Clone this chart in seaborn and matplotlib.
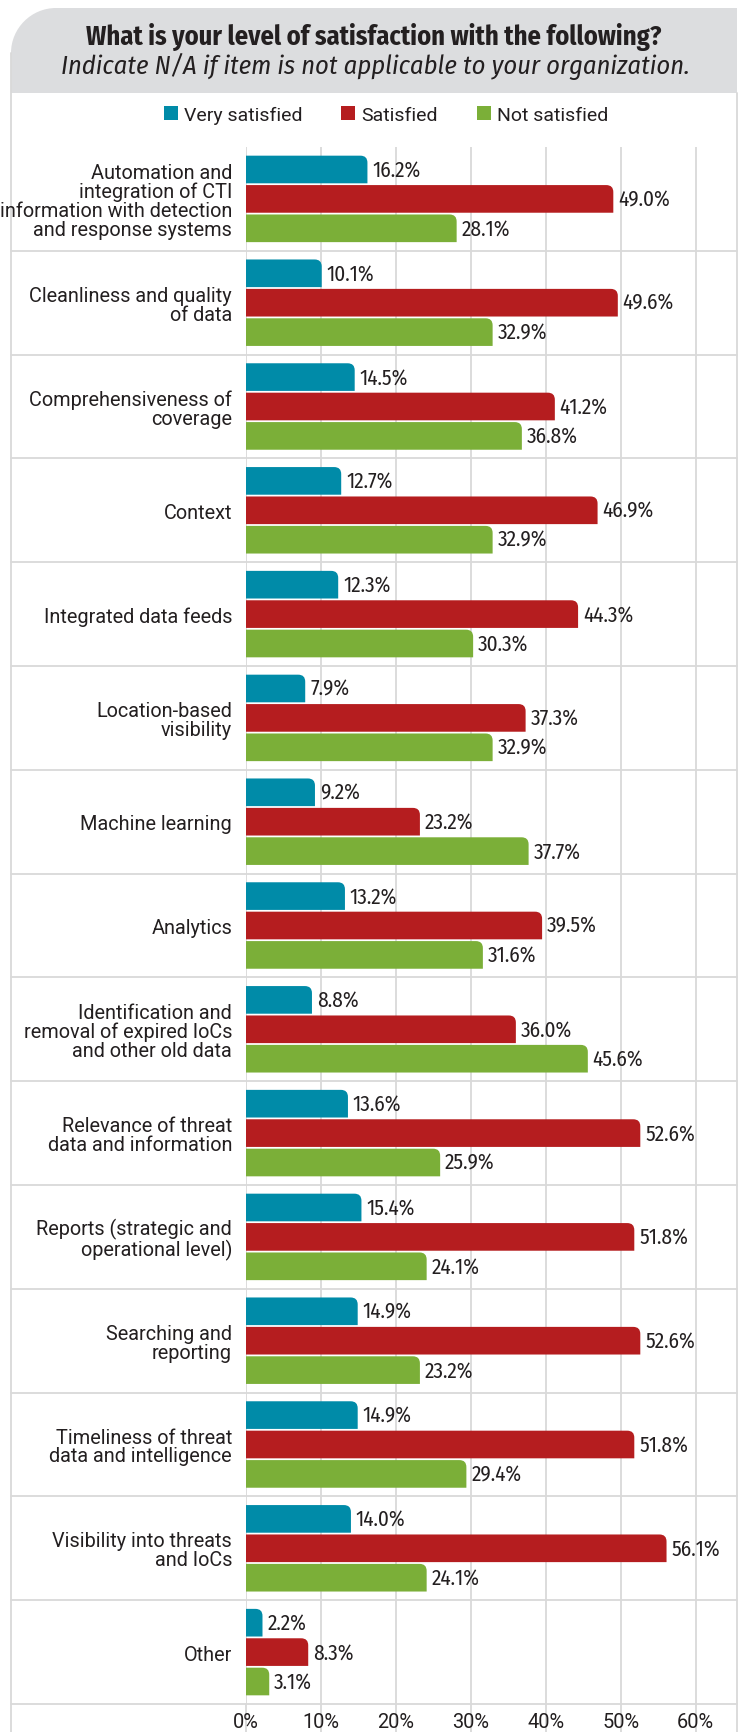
import numpy as np
import pandas as pd
import seaborn as sns
import matplotlib.pyplot as plt
from matplotlib import font_manager as fm
from matplotlib.path import Path
from matplotlib.patches import PathPatch, Patch

# ---- data -------------------------------------------------------------
categories = [
    "Automation and\nintegration of CTI\ninformation with detection\nand response systems",
    "Cleanliness and quality\nof data",
    "Comprehensiveness of\ncoverage",
    "Context",
    "Integrated data feeds",
    "Location-based\nvisibility",
    "Machine learning",
    "Analytics",
    "Identification and\nremoval of expired IoCs\nand other old data",
    "Relevance of threat\ndata and information",
    "Reports (strategic and\noperational level)",
    "Searching and\nreporting",
    "Timeliness of threat\ndata and intelligence",
    "Visibility into threats\nand IoCs",
    "Other",
]
very_satisfied = [16.2, 10.1, 14.5, 12.7, 12.3, 7.9, 9.2, 13.2, 8.8, 13.6, 15.4, 14.9, 14.9, 14.0, 2.2]
satisfied = [49.0, 49.6, 41.2, 46.9, 44.3, 37.3, 23.2, 39.5, 36.0, 52.6, 51.8, 52.6, 51.8, 56.1, 8.3]
not_satisfied = [28.1, 32.9, 36.8, 32.9, 30.3, 32.9, 37.7, 31.6, 45.6, 25.9, 24.1, 23.2, 29.4, 24.1, 3.1]
levels = ["Very satisfied", "Satisfied", "Not satisfied"]
x_ticks = [0, 10, 20, 30, 40, 50, 60]

COLORS = ["#008ba8", "#b51d1f", "#7baf38"]
TEXT = "#231f20"
GRID = "#d9d9d9"
REGULAR = ["Roboto", "DejaVu Sans"]

W, H = 743, 1733


def pick_font():
    """Pick the narrowest installed sans we can find."""
    entries = fm.fontManager.ttflist
    names = {f.name for f in entries}
    for cand in ["Fira Sans Condensed", "Roboto Condensed", "Liberation Sans Narrow",
                 "Open Sans Condensed", "Noto Sans Condensed", "Arial Narrow"]:
        if cand in names:
            return cand, "normal"
    for f in entries:
        if f.name in ("Noto Sans", "Open Sans", "DejaVu Sans") and f.stretch in (
                "condensed", "semi-condensed", 75, 87.5):
            return f.name, f.stretch
    return "Roboto", "normal"


def build_frame():
    rows = []
    for name, vals in zip(levels, [very_satisfied, satisfied, not_satisfied]):
        for cat, v in zip(categories, vals):
            rows.append({"item": cat, "level": name, "pct": v})
    df = pd.DataFrame(rows)
    df["item"] = pd.Categorical(df["item"], categories=categories, ordered=True)
    df["level"] = pd.Categorical(df["level"], categories=levels, ordered=True)
    return df


def round_top_right(ax, radius_px=7):
    """Swap each bar for a path with a rounded top-right corner."""
    p0 = ax.transData.transform((0, 0))
    p1 = ax.transData.transform((1, 1))
    rx = radius_px / abs(p1[0] - p0[0])
    ry = radius_px / abs(p1[1] - p0[1])
    for rect in list(ax.patches):
        x0, y0 = rect.get_x(), rect.get_y()
        w, h = rect.get_width(), rect.get_height()
        if w <= 0:
            continue
        x1, yb = x0 + w, y0 + h
        r_x = min(rx, w)
        verts = [(x0, yb), (x1, yb), (x1, y0 + ry), (x1, y0), (x1 - r_x, y0), (x0, y0), (x0, yb)]
        codes = [Path.MOVETO, Path.LINETO, Path.LINETO, Path.CURVE3, Path.CURVE3,
                 Path.LINETO, Path.CLOSEPOLY]
        patch = PathPatch(Path(verts, codes), facecolor=rect.get_facecolor(),
                          edgecolor="none", zorder=rect.get_zorder())
        rect.set_visible(False)
        ax.add_patch(patch)


sns.set_theme(style="white")
font_name, font_stretch = pick_font()
CONDENSED = [font_name, "DejaVu Sans"]
plt.rcParams["font.family"] = REGULAR

fig = plt.figure(figsize=(W / 100, H / 100), dpi=100)

# background card drawn in pixel coordinates
bg = fig.add_axes([0, 0, 1, 1], zorder=0)
bg.set_xlim(0, W)
bg.set_ylim(H, 0)
bg.axis("off")
left, right, top, hbot, rad = 11, 737, 9, 94, 45
k = 0.55
head = [(left, hbot), (left, top + rad), (left, top + rad * (1 - k)), (left + rad * (1 - k), top),
        (left + rad, top), (right, top), (right, hbot), (left, hbot)]
hcodes = [Path.MOVETO, Path.LINETO, Path.CURVE4, Path.CURVE4, Path.CURVE4,
          Path.LINETO, Path.LINETO, Path.CLOSEPOLY]
bg.add_patch(PathPatch(Path(head, hcodes), facecolor="#dcdddf", edgecolor="none"))
bg.plot([left, left], [top + rad, H], color=GRID, lw=1.3)
bg.plot([right, right], [hbot, H], color=GRID, lw=1.3)

fig.text(374 / W, 1 - 37 / H, "What is your level of satisfaction with the following?",
         ha="center", va="center", fontsize=19, fontweight="bold", color=TEXT,
         family=CONDENSED, fontstretch=font_stretch)
fig.text(375 / W, 1 - 66 / H, "Indicate N/A if item is not applicable to your organization.",
         ha="center", va="center", fontsize=19, fontstyle="italic", color=TEXT,
         family=CONDENSED, fontstretch=font_stretch)

# main chart
ax_left, ax_right, ax_top, ax_bot = 246, 737, 148, 1705
ax = fig.add_axes([ax_left / W, 1 - ax_bot / H, (ax_right - ax_left) / W, (ax_bot - ax_top) / H],
                  zorder=1)
ax.set_facecolor("none")

df = build_frame()
sns.barplot(data=df, y="item", x="pct", hue="level", orient="h", palette=COLORS,
            width=0.85, gap=0.06, legend=False, saturation=1, ax=ax)

ax.set_xlim(0, 65.5)
ax.set_ylim(len(categories) - 0.5, -0.5)
ax.set_xticks(x_ticks)
ax.set_xticklabels([f"{t}%" for t in x_ticks])
ax.set_xlabel("")
ax.set_ylabel("")
ax.tick_params(axis="x", length=0, pad=6, labelsize=14.4, labelcolor=TEXT)
ax.tick_params(axis="y", length=0, pad=10, labelsize=14.3, labelcolor=TEXT)
for lab in ax.get_yticklabels():
    lab.set_linespacing(1.0)
for s in ax.spines.values():
    s.set_visible(False)

for t in x_ticks:
    ax.axvline(t, color=GRID, lw=1.3, zorder=0)
    ax.plot([t, t], [0, -(H - ax_bot) / (ax_bot - ax_top)], transform=ax.get_xaxis_transform(),
            color=GRID, lw=1.3, clip_on=False, zorder=0)

# group separators run across the whole card
x_from = (left - ax_left) / (ax_right - ax_left)
for i in range(len(categories)):
    ax.plot([x_from, 1], [i + 0.5, i + 0.5], transform=ax.get_yaxis_transform(),
            color=GRID, lw=1.3, clip_on=False, zorder=0)

for cont in ax.containers:
    ax.bar_label(cont, fmt="%.1f%%", padding=3.5, fontsize=15.3, color=TEXT,
                 family=CONDENSED, fontstretch=font_stretch)

round_top_right(ax)

handles = [Patch(facecolor=c, edgecolor="none") for c in COLORS]
fig.legend(handles, levels, loc="center", bbox_to_anchor=(386 / W, 1 - 116 / H), ncol=3,
           frameon=False, fontsize=14, handlelength=0.72, handleheight=0.72,
           handletextpad=0.3, columnspacing=2.0, labelcolor=TEXT)

plt.savefig("out.png", dpi=100)
